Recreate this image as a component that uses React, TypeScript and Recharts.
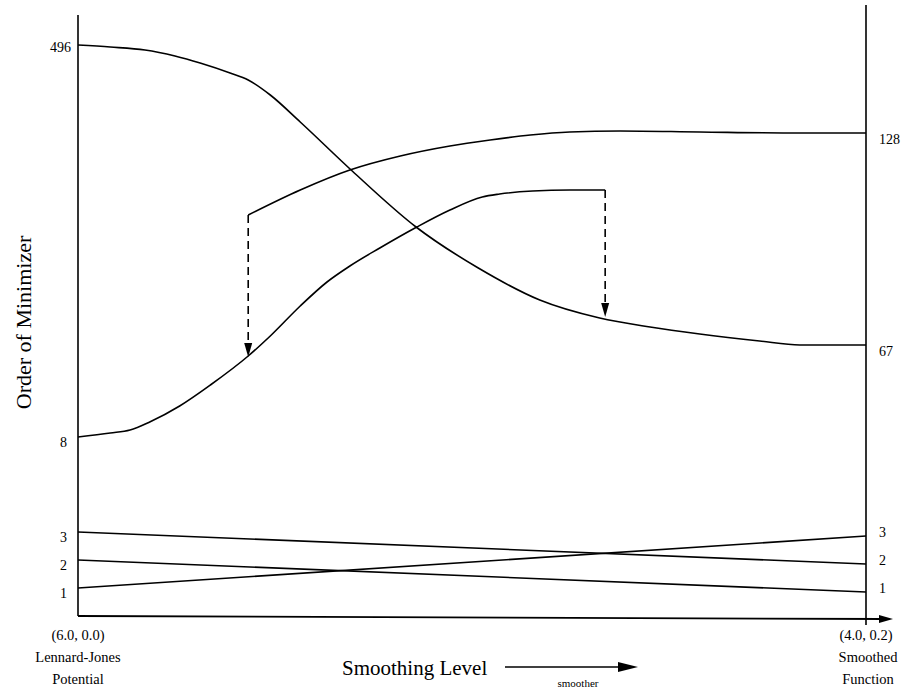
import React from 'react';
import { LineChart, Line, XAxis, YAxis, ReferenceLine } from 'recharts';

const FONT = "'Liberation Serif', 'Times New Roman', serif";
const W = 908;
const H = 689;

// s: smoothing level (0 = Lennard-Jones potential, 1 = fully smoothed function)
// v: vertical rank position of each minimizer

// global minimizer of the raw potential, 496th at start, 67th when smoothed
const branch496 = [
  { s: 0, v: 571 }, { s: 0.041, v: 569 }, { s: 0.085, v: 566 }, { s: 0.123, v: 560 },
  { s: 0.155, v: 553 }, { s: 0.193, v: 543 }, { s: 0.216, v: 536 }, { s: 0.244, v: 521 },
  { s: 0.282, v: 494 }, { s: 0.348, v: 445 }, { s: 0.429, v: 389 }, { s: 0.508, v: 348 },
  { s: 0.586, v: 316 }, { s: 0.662, v: 298 }, { s: 0.726, v: 289 }, { s: 0.789, v: 282 },
  { s: 0.865, v: 275 }, { s: 0.916, v: 271 }, { s: 1, v: 271 },
];

// 8th minimizer rising until it disappears
const branch8 = [
  { s: 0, v: 179 }, { s: 0.041, v: 183 }, { s: 0.066, v: 186 }, { s: 0.091, v: 194 },
  { s: 0.129, v: 210 }, { s: 0.168, v: 231 }, { s: 0.216, v: 260 }, { s: 0.244, v: 280 },
  { s: 0.282, v: 310 }, { s: 0.316, v: 334 }, { s: 0.345, v: 350 }, { s: 0.383, v: 368 },
  { s: 0.43, v: 389 }, { s: 0.472, v: 406 }, { s: 0.513, v: 419 }, { s: 0.535, v: 422 },
  { s: 0.577, v: 425 }, { s: 0.624, v: 426 }, { s: 0.669, v: 426 },
];

// minimizer that appears mid-way and ends as the 128th
const branch128 = [
  { s: 0.216, v: 401 }, { s: 0.282, v: 426 }, { s: 0.345, v: 446 }, { s: 0.409, v: 460 },
  { s: 0.472, v: 470 }, { s: 0.523, v: 476 }, { s: 0.574, v: 481 }, { s: 0.624, v: 484 },
  { s: 0.688, v: 485 }, { s: 0.789, v: 484 }, { s: 0.916, v: 483 }, { s: 1, v: 483 },
];

// lowest three minimizers, swapping order
const branch3to2 = [{ s: 0, v: 84 }, { s: 1, v: 52 }];
const branch2to1 = [{ s: 0, v: 56 }, { s: 1, v: 24 }];
const branch1to3 = [{ s: 0, v: 28 }, { s: 1, v: 80 }];

// dashed jumps: where a branch appears / vanishes
const jumpAppear = [{ x: 0.216, y: 401 }, { x: 0.216, y: 259 }];
const jumpVanish = [{ x: 0.669, y: 426 }, { x: 0.669, y: 299 }];

const leftTicks = [571, 179, 84, 56, 28];
const leftLabels = ['496', '8', '3', '2', '1'];
const rightTicks = [483, 271, 80, 52, 24];
const rightLabels = ['128', '67', '3', '2', '1'];

const xTicks = [0, 1];
const xTickLines = [
  ['(6.0, 0.0)', 'Lennard-Jones', 'Potential'],
  ['(4.0, 0.2)', 'Smoothed', 'Function'],
];

const LINE = { stroke: '#000', strokeWidth: 1.6, dot: false, isAnimationActive: false } as const;

const LeftTick = (p: any) => {
  const i = leftTicks.indexOf(p.payload.value);
  const label = leftLabels[i];
  const dy = i === 0 ? 7 : 10;
  return (
    <text x={label.length > 1 ? p.x + 1 : p.x - 3} y={p.y + dy} textAnchor="end" fontSize={14} fontFamily={FONT} fill="#000">
      {label}
    </text>
  );
};

const RightTick = (p: any) => {
  const i = rightTicks.indexOf(p.payload.value);
  const dy = i < 2 ? 11 : 1;
  return (
    <text x={p.x + 5} y={p.y + dy} textAnchor="start" fontSize={14} fontFamily={FONT} fill="#000">
      {rightLabels[i]}
    </text>
  );
};

const BottomTick = (p: any) => {
  const i = xTicks.indexOf(p.payload.value);
  const lines = xTickLines[i] || [];
  return (
    <g>
      {lines.map((t, k) => (
        <text key={k} x={p.x + (k > 0 && i === 1 ? 2 : 0)} y={p.y + 16 + k * 22} textAnchor="middle" fontSize={14.5} fontFamily={FONT} fill="#000">
          {t}
        </text>
      ))}
    </g>
  );
};

const YTitle = (p: any) => {
  const vb = p.viewBox || { x: 0, y: 15, width: 78, height: 601 };
  const cx = vb.x + 31;
  const cy = vb.y + vb.height / 2 + 7;
  return (
    <text x={cx} y={cy} transform={`rotate(-90, ${cx}, ${cy})`} textAnchor="middle" fontSize={22} fontFamily={FONT} fill="#000">
      Order of Minimizer
    </text>
  );
};

const XTitle = (p: any) => {
  const vb = p.viewBox || { x: 78, y: 616, width: 788, height: 73 };
  const y = vb.y;
  return (
    <g>
      <text x={342} y={y + 59} fontSize={21} fontFamily={FONT} fill="#000">Smoothing Level</text>
      <line x1={505} y1={y + 51} x2={622} y2={y + 51} stroke="#000" strokeWidth={1.6} />
      <polygon points={`${618},${y + 46} ${638},${y + 51} ${618},${y + 56}`} fill="#000" />
      <text x={578} y={y + 71} textAnchor="middle" fontSize={11} fontFamily={FONT} fill="#000">smoother</text>
    </g>
  );
};

const DashedArrow = (p: any) => {
  const { x1, y1, x2, y2 } = p;
  return (
    <g>
      <line x1={x1} y1={y1} x2={x2} y2={y2 - 10} stroke="#000" strokeWidth={1.6} strokeDasharray="8 5" />
      <polygon points={`${x2 - 4},${y2 - 14} ${x2 + 4},${y2 - 14} ${x2},${y2}`} fill="#000" />
    </g>
  );
};

const AxisArrow = (p: any) => {
  const { x1, y1, x2, y2 } = p;
  return (
    <g>
      <line x1={x1} y1={y1} x2={x2 - 8} y2={y2} stroke="#000" strokeWidth={1.8} />
      <polygon points={`${x2 - 14},${y2 - 4} ${x2},${y2} ${x2 - 14},${y2 + 4}`} fill="#000" />
    </g>
  );
};

const PlainSeg = (p: any) => (
  <line x1={p.x1} y1={p.y1} x2={p.x2} y2={p.y2} stroke="#000" strokeWidth={1.6} />
);

export default function App() {
  return (
    <div style={{ position: 'absolute', left: 0, top: 0, width: W, height: H, background: '#fff' }}>
      <LineChart width={W} height={H} margin={{ top: 15, right: 0, bottom: 0, left: 0 }}>
        <XAxis
          dataKey="s"
          type="number"
          domain={[0, 1]}
          ticks={xTicks}
          interval={0}
          height={73}
          axisLine={false}
          tickLine={false}
          tick={<BottomTick />}
          label={<XTitle />}
        />
        <YAxis
          yAxisId="left"
          type="number"
          domain={[0, 601]}
          ticks={leftTicks}
          interval={0}
          width={78}
          axisLine={{ stroke: '#000', strokeWidth: 1.6 }}
          tickLine={false}
          tick={<LeftTick />}
          label={<YTitle />}
        />
        <YAxis
          yAxisId="right"
          orientation="right"
          type="number"
          domain={[0, 601]}
          ticks={rightTicks}
          interval={0}
          width={42}
          axisLine={false}
          tickLine={false}
          tick={<RightTick />}
        />

        <ReferenceLine yAxisId="left" segment={[{ x: 1, y: -9 }, { x: 1, y: 611 }]} ifOverflow="visible" shape={<PlainSeg />} />
        <ReferenceLine yAxisId="left" segment={[{ x: 0, y: 0 }, { x: 1.0343, y: -3 }]} ifOverflow="visible" shape={<AxisArrow />} />

        <Line yAxisId="left" data={branch496} dataKey="v" type="monotone" {...LINE} />
        <Line yAxisId="left" data={branch8} dataKey="v" type="monotone" {...LINE} />
        <Line yAxisId="right" data={branch128} dataKey="v" type="monotone" {...LINE} />
        <Line yAxisId="right" data={branch3to2} dataKey="v" type="linear" {...LINE} />
        <Line yAxisId="left" data={branch2to1} dataKey="v" type="linear" {...LINE} />
        <Line yAxisId="right" data={branch1to3} dataKey="v" type="linear" {...LINE} />

        <ReferenceLine yAxisId="left" segment={jumpAppear} ifOverflow="visible" shape={<DashedArrow />} />
        <ReferenceLine yAxisId="left" segment={jumpVanish} ifOverflow="visible" shape={<DashedArrow />} />
      </LineChart>
    </div>
  );
}
